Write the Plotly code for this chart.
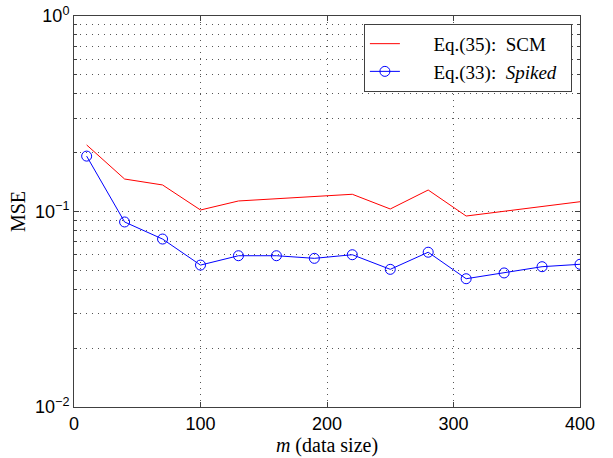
import plotly.graph_objects as go

m_vals = [10, 40, 70, 100, 130, 160, 190, 220, 250, 280, 310, 340, 370, 400]
mse_scm = [0.219, 0.1466, 0.1367, 0.1018, 0.1132, 0.1159, 0.119, 0.1225, 0.103, 0.1288, 0.0948, 0.1002, 0.106, 0.1122]
mse_spiked = [0.192, 0.0884, 0.0723, 0.0532, 0.0594, 0.0594, 0.0576, 0.0601, 0.0506, 0.0619, 0.0453, 0.0485, 0.0522, 0.0537]

y_major = [0.01, 0.1, 1]
y_major_text = ["10<sup>−2</sup>", "10<sup>−1</sup>", "10<sup>0</sup>"]
x_ticks = [0, 100, 200, 300, 400]
y_minor = [k * 10 ** e for e in (-2, -1) for k in range(2, 10)]

fig = go.Figure()
fig.add_trace(go.Scatter(
    x=m_vals, y=mse_scm, mode="lines", name="\u2003\u2002Eq.(35):  SCM\u2002",
    line=dict(color="#ff0000", width=1),
))
fig.add_trace(go.Scatter(
    x=m_vals, y=mse_spiked, mode="lines+markers", name="\u2003\u2002Eq.(33):  <i>Spiked</i>\u2002",
    line=dict(color="#0000ff", width=1),
    marker=dict(symbol="circle-open", size=10, color="#0000ff", line=dict(width=1)),
))

grid_dash = "1px,5px"
axis_common = dict(
    showline=True, linecolor="#404040", linewidth=1, mirror="ticks",
    ticks="inside", ticklen=5, tickcolor="#404040",
    showgrid=True, gridcolor="#555555", griddash=grid_dash, gridwidth=1,
    zeroline=False, automargin=False, ticklabeloverflow="allow",
    tickfont=dict(family="Liberation Sans", size=18, color="#000"),
)

fig.update_layout(
    width=613, height=458,
    margin=dict(l=74, r=33, t=16, b=51),
    paper_bgcolor="white", plot_bgcolor="white",
    showlegend=True,
    legend=dict(
        x=0.984, y=0.98, xanchor="right", yanchor="top",
        bgcolor="white", bordercolor="#404040", borderwidth=1,
        font=dict(family="Liberation Serif", size=19, color="#000"),
        tracegroupgap=2,
    ),
    xaxis=dict(
        range=[0, 400], tickmode="array", tickvals=x_ticks,
        title=dict(text="<i>m</i> (data size)", standoff=2,
                   font=dict(family="Liberation Serif", size=20, color="#000")),
        **axis_common,
    ),
    yaxis=dict(
        type="log", range=[-2, 0], tickmode="array", tickvals=y_major, ticktext=y_major_text,
        title=dict(text="MSE", standoff=4,
                   font=dict(family="Liberation Serif", size=20, color="#000")),
        minor=dict(tickmode="array", tickvals=y_minor, ticks="inside", ticklen=3,
                   tickcolor="#404040", showgrid=True, gridcolor="#555555", griddash=grid_dash),
        **axis_common,
    ),
)

fig.write_html("out.html", config={"displayModeBar": False},
               post_script="document.body.style.margin='0';")
